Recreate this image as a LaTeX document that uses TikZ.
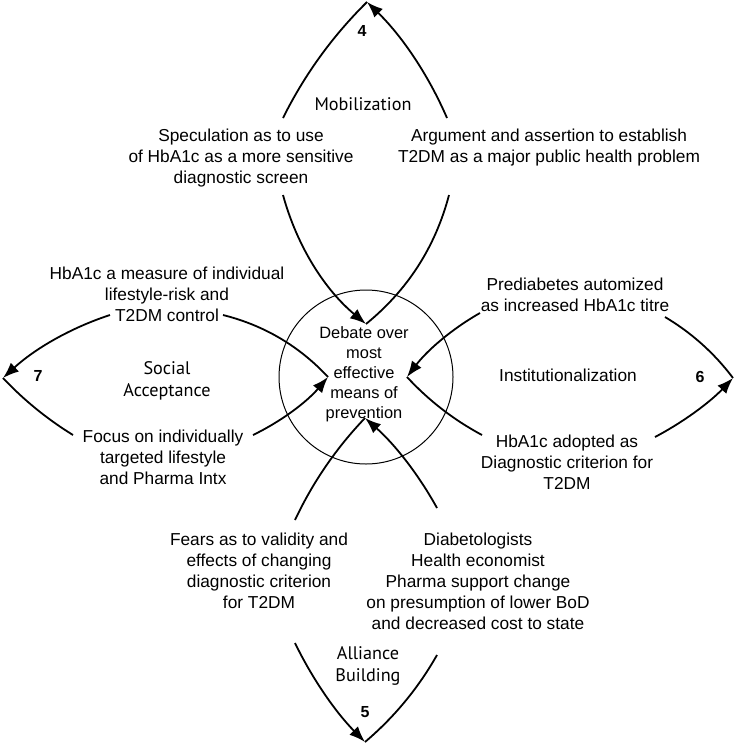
\documentclass[tikz,border=0pt]{standalone}
\usepackage{fontspec}
\setmainfont{Liberation Sans}
\newfontfamily\phasefont{PT Sans}
\usetikzlibrary{arrows.meta,calc}
\begin{document}
\begin{tikzpicture}[x=1pt,y=-1pt,
  txt/.style={inner sep=0pt, align=center, font=\fontsize{17.3}{21}\selectfont},
  dbt/.style={inner sep=0pt, align=center, font=\fontsize{16.4}{20}\selectfont},
  phase/.style={inner sep=0pt, align=center, font=\phasefont\fontsize{18.2}{22.5}\selectfont},
  num/.style={inner sep=0pt, font=\bfseries\fontsize{16}{18}\selectfont},
  flow/.style={line width=1.8pt},
  arr/.style={flow, -{Latex[length=16pt,width=12pt]}},
]
\useasboundingbox (0,0) rectangle (754,747);

% centre circle
\node[circle, draw, line width=1pt, minimum size=174pt, inner sep=0pt] (ring) at (366,377) {};
\node[dbt] (debate) at (364,374) {Debate over\\most\\effective\\means of\\prevention};

% texts
\node[txt] (spec) at (241,158) {Speculation as to use\\of HbA1c as a more sensitive\\diagnostic screen};
\node[txt] (arg) at (549,148) {Argument and assertion to establish\\T2DM as a major public health problem};
\node[txt] (hba) at (167,294) {HbA1c a measure of individual\\lifestyle-risk and\\T2DM control};
\node[txt] (focus) at (163,457) {Focus on individually\\targeted lifestyle\\and Pharma Intx};
\node[txt] (pred) at (575,295) {Prediabetes automized\\as increased HbA1c titre};
\node[txt] (adopt) at (567,462) {HbA1c adopted as\\Diagnostic criterion for\\T2DM};
\node[txt] (fears) at (259,571) {Fears as to validity and\\effects of changing\\diagnostic criterion\\for T2DM};
\node[txt] (diab) at (478,581) {Diabetologists\\Health economist\\Pharma support change\\on presumption of lower BoD\\and decreased cost to state};

% phase labels
\node[phase] (mob) at (363,104) {Mobilization};
\node[phase] (social) at (167,381) {Social\\Acceptance};
\node[txt] (inst) at (568,375) {Institutionalization};
\node[phase] (alliance) at (368,666) {Alliance\\Building};

% numbers
\node[num] (n4) at (362,31) {4};
\node[num] (n7) at (38,376) {7};
\node[num] (n6) at (700,377) {6};
\node[num] (n5) at (365,712) {5};

% vertices and curve ends
\coordinate (vT) at (366,324);
\coordinate (vL) at (328,377);
\coordinate (vR) at (407,377);
\coordinate (vB) at (365,418);
\coordinate (tip4) at (367,2);
\coordinate (tip7) at (3,378);
\coordinate (tip6) at (733,378);
\coordinate (tip5) at (365,742);
\coordinate (argB) at (449,195);
\coordinate (argT) at (447,118);
\coordinate (specT) at (283,118);
\coordinate (specB) at (283,195);
\coordinate (hbaR) at (223,315);
\coordinate (hbaL) at (110,315);
\coordinate (focusL) at (73,435);
\coordinate (focusR) at (253,435);
\coordinate (adoptL) at (482,435);
\coordinate (adoptR) at (655,437);
\coordinate (predR) at (665,317);
\coordinate (predL) at (480,313);
\coordinate (fearsT) at (295,520);
\coordinate (fearsB) at (295,643);
\coordinate (diabB) at (437,655);
\coordinate (diabT) at (437,508);

% top loop
\draw[flow] (vT) .. controls ($(vT)!.6667!(428.5,273)$) and ($(argB)!.6667!(428.5,273)$) .. (argB);
\draw[arr] (argT) .. controls ($(argT)!.6667!(418.5,52)$) and ($(tip4)!.6667!(418.5,52)$) .. (tip4);
\draw[flow] (tip4) .. controls ($(tip4)!.6667!(315.3,53)$) and ($(specT)!.6667!(315.3,53)$) .. (specT);
\draw[arr] (specB) .. controls ($(specB)!.6667!(304.3,272.5)$) and ($(vT)!.6667!(304.3,272.5)$) .. (vT);

% left loop
\draw[flow] (vL) .. controls ($(vL)!.6667!(284.7,330.5)$) and ($(hbaR)!.6667!(284.7,330.5)$) .. (hbaR);
\draw[arr] (hbaL) .. controls ($(hbaL)!.6667!(50.5,334.4)$) and ($(tip7)!.6667!(50.5,334.4)$) .. (tip7);
\draw[flow] (tip7) .. controls ($(tip7)!.6667!(34.2,411.1)$) and ($(focusL)!.6667!(34.2,411.1)$) .. (focusL);
\draw[arr] (focusR) .. controls ($(focusR)!.6667!(296.6,413.9)$) and ($(vL)!.6667!(296.6,413.9)$) .. (vL);

% right loop
\draw[flow] (vR) .. controls ($(vR)!.6667!(439.6,412.3)$) and ($(adoptL)!.6667!(439.6,412.3)$) .. (adoptL);
\draw[arr] (adoptR) .. controls ($(adoptR)!.6667!(698.8,413.9)$) and ($(tip6)!.6667!(698.8,413.9)$) .. (tip6);
\draw[flow] (tip6) .. controls ($(tip6)!.6667!(705,340.8)$) and ($(predR)!.6667!(705,340.8)$) .. (predR);
\draw[arr] (predL) .. controls ($(predL)!.6667!(436.9,337.5)$) and ($(vR)!.6667!(436.9,337.5)$) .. (vR);

% bottom loop
\draw[flow] (vB) .. controls ($(vB)!.6667!(321.7,463.3)$) and ($(fearsT)!.6667!(321.7,463.3)$) .. (fearsT);
\draw[arr] (fearsB) .. controls ($(fearsB)!.6667!(321.8,698.3)$) and ($(tip5)!.6667!(321.8,698.3)$) .. (tip5);
\draw[flow] (tip5) .. controls ($(tip5)!.6667!(408.7,704.9)$) and ($(diabB)!.6667!(408.7,704.9)$) .. (diabB);
\draw[arr] (diabT) .. controls ($(diabT)!.6667!(408.8,456.7)$) and ($(vB)!.6667!(408.8,456.7)$) .. (vB);
\end{tikzpicture}
\end{document}
